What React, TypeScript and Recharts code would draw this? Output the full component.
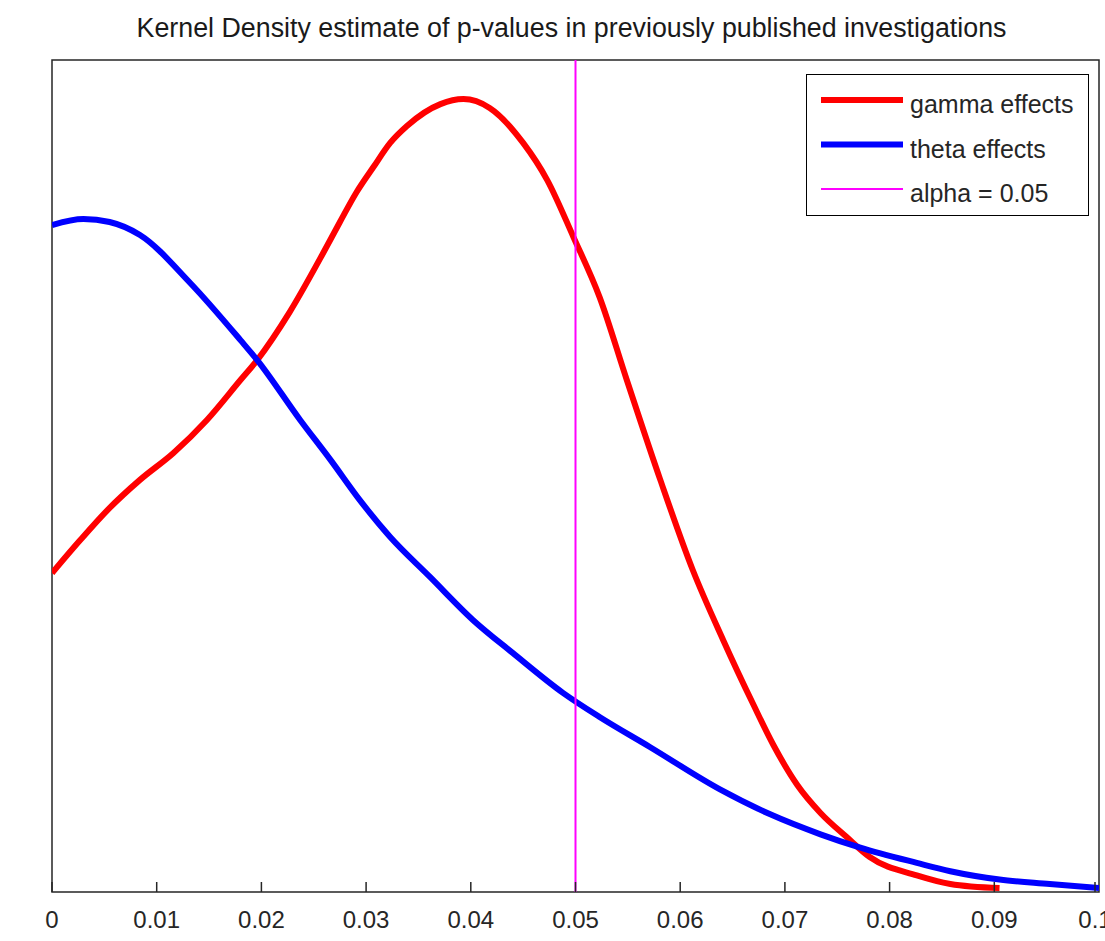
import React from "react";
import {
  LineChart,
  Line,
  XAxis,
  YAxis,
  ReferenceLine,
  ReferenceArea,
} from "recharts";

const title = "Kernel Density estimate of p-values in previously published investigations";

// x positions (p-value) and density
const gammaX = [0, 0.0027, 0.0053, 0.0084, 0.0116, 0.0148, 0.018, 0.0196, 0.0227, 0.0259, 0.0275, 0.0291, 0.0307, 0.0323, 0.0339, 0.0371, 0.0393, 0.0418, 0.045, 0.0473, 0.0498, 0.0523, 0.0549, 0.0581, 0.0612, 0.0641, 0.067, 0.0689, 0.0712, 0.0734, 0.0759, 0.0781, 0.0826, 0.0858, 0.0905];
const gammaY = [11.5, 12.69, 13.77, 14.86, 15.83, 17.02, 18.46, 19.18, 20.91, 23.04, 24.16, 25.24, 26.14, 27.01, 27.62, 28.41, 28.59, 28.27, 27.01, 25.67, 23.62, 21.45, 18.46, 14.86, 11.61, 9.09, 6.75, 5.3, 3.85, 2.85, 1.98, 1.26, 0.6, 0.29, 0.14];

const thetaX = [0, 0.003, 0.0055, 0.0084, 0.0132, 0.018, 0.0196, 0.0237, 0.0266, 0.0294, 0.0323, 0.0361, 0.0402, 0.044, 0.0488, 0.0523, 0.0571, 0.0638, 0.0686, 0.0734, 0.0772, 0.0826, 0.0858, 0.0905, 0.0953, 0.1];
const thetaY = [24.05, 24.27, 24.16, 23.69, 21.96, 19.9, 19.18, 17.02, 15.58, 14.13, 12.8, 11.36, 9.81, 8.62, 7.18, 6.31, 5.23, 3.7, 2.8, 2.08, 1.6, 1.05, 0.75, 0.45, 0.29, 0.14];

const alpha = 0.05;
const xTicks = [0, 0.01, 0.02, 0.03, 0.04, 0.05, 0.06, 0.07, 0.08, 0.09, 0.1];

const legendItems = [
  { label: "gamma effects", color: "#ff0000", width: 6 },
  { label: "theta effects", color: "#0000ff", width: 6 },
  { label: "alpha = 0.05", color: "#ff00ff", width: 2 },
];

const gammaData = gammaX.map((x, i) => ({ p: x, density: gammaY[i] }));
const thetaData = thetaX.map((x, i) => ({ p: x, density: thetaY[i] }));

const FONT = "'Liberation Sans', Arial, Helvetica, sans-serif";

const BottomTick = (props: any) => {
  const { x, y, payload } = props;
  return (
    <g>
      <line x1={x} y1={y} x2={x} y2={y - 10} stroke="#262626" strokeWidth={1.5} />
      <text x={x} y={y + 36} textAnchor="middle" fontSize={24} fontFamily={FONT} fill="#262626">
        {String(payload.value)}
      </text>
    </g>
  );
};

const TopTick = (props: any) => {
  const { x, y } = props;
  return <line x1={x} y1={y} x2={x} y2={y + 10} stroke="#262626" strokeWidth={1.5} />;
};

function LegendBox() {
  return (
    <div
      style={{
        position: "absolute",
        left: 806,
        top: 74,
        width: 283,
        height: 142,
        border: "1.5px solid #000",
        background: "#fff",
        boxSizing: "border-box",
      }}
    >
      <svg width={281} height={140} style={{ display: "block" }}>
        {legendItems.map((item, i) => (
          <g key={item.label}>
            <line
              x1={14}
              x2={96}
              y1={25 + i * 44.5}
              y2={25 + i * 44.5}
              stroke={item.color}
              strokeWidth={item.width}
            />
            <text x={103} y={38 + i * 44.5} fontSize={25} fontFamily={FONT} fill="#262626">
              {item.label}
            </text>
          </g>
        ))}
      </svg>
    </div>
  );
}

export default function App() {
  return (
    <div style={{ position: "absolute", left: 0, top: 0, width: 1105, height: 941, background: "#fff" }}>
      <div
        style={{
          position: "absolute",
          left: -4,
          top: 13,
          width: 1151,
          textAlign: "center",
          fontFamily: FONT,
          fontSize: 26.8,
          color: "#1a1a1a",
          whiteSpace: "nowrap",
        }}
      >
        {title}
      </div>
      <LineChart width={1105} height={941} margin={{ top: 60, right: 6, bottom: 0, left: 52 }}>
        <XAxis
          type="number"
          dataKey="p"
          domain={[0, 0.1]}
          ticks={xTicks}
          height={49}
          tickSize={0}
          tickMargin={0}
          axisLine={false}
          tickLine={false}
          tick={<BottomTick />}
          allowDataOverflow
        />
        <XAxis
          xAxisId="top"
          orientation="top"
          type="number"
          dataKey="p"
          domain={[0, 0.1]}
          ticks={xTicks}
          height={0}
          tickSize={0}
          tickMargin={0}
          axisLine={false}
          tickLine={false}
          tick={<TopTick />}
        />
        <YAxis type="number" domain={[0, 30]} hide allowDataOverflow />
        <ReferenceArea x1={0} x2={0.1} y1={0} y2={30} fill="none" stroke="#262626" strokeWidth={1.5} />
        <Line
          data={gammaData}
          dataKey="density"
          type="monotone"
          stroke="#ff0000"
          strokeWidth={6}
          dot={false}
          isAnimationActive={false}
        />
        <Line
          data={thetaData}
          dataKey="density"
          type="monotone"
          stroke="#0000ff"
          strokeWidth={6}
          dot={false}
          isAnimationActive={false}
        />
        <ReferenceLine x={alpha} stroke="#ff00ff" strokeWidth={2} />
      </LineChart>
      <LegendBox />
    </div>
  );
}
